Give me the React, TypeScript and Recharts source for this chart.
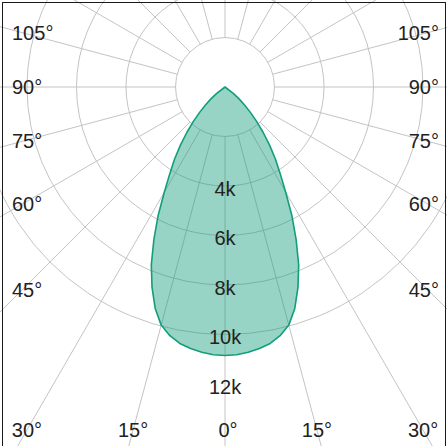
import { RadarChart, Radar, PolarGrid, PolarAngleAxis, PolarRadiusAxis } from 'recharts'

// luminous intensity (cd) read every 2.5° from nadir, 0..90°
const gammaDeg = [
  0, 2.5, 5, 7.5, 10, 12.5, 15, 17.5, 20, 22.5, 25, 27.5, 30, 32.5, 35, 37.5, 40, 42.5, 45,
  47.5, 50, 52.5, 55, 57.5, 60, 62.5, 65, 67.5, 70, 72.5, 75, 77.5, 80, 82.5, 85, 87.5, 90,
]
const intensityCd = [
  10850, 10830, 10760, 10660, 10520, 10290, 9960, 9380, 8620, 7780, 6800, 5850, 4900, 4150, 3550, 2950, 2400, 1900, 1450,
  1060, 730, 420, 0, 0, 0, 0, 0, 0, 0, 0, 0, 0, 0, 0, 0, 0, 0,
]

const ringValues = [2000, 4000, 6000, 8000, 10000]
const radiusLabels = [4000, 6000, 8000, 10000, 12000]
const angleLabels = [0, 15, 30, 45, 60, 75, 90, 105]
const spokeAngles = [0, 15, 30, 45, 60, 75, 90, 105, 120, 135, 150, 165, 180, 195, 210, 225, 240, 255, 270, 285, 300, 315, 330, 345]

const W = 447
const H = 446
const CX = 225
const CY = 87
const R_MIN = 2000
const R_MAX = 18000
// chosen so that 0 cd lands exactly on the centre
const INNER = 49.5
const OUTER = 445.5
const rScale = (v: number) => INNER + ((v - R_MIN) * (OUTER - INNER)) / (R_MAX - R_MIN)

const FONT = '"Liberation Sans", Arial, sans-serif'
const GREEN = '#129e7a'

// full turn in 2.5° steps, mirrored about the 0° axis
const data = Array.from({ length: 144 }, (_, i) => {
  const a = i * 2.5
  const g = a <= 180 ? a : 360 - a
  const k = gammaDeg.indexOf(g)
  return { angle: a, cd: k >= 0 ? intensityCd[k] : 0 }
})

function AngleTick(props: any) {
  const a = Number(props.payload?.value)
  const g = a <= 180 ? a : 360 - a
  if (!angleLabels.includes(g)) return <g />
  const rad = (a * Math.PI) / 180
  const dx = -Math.sin(rad)
  const dy = Math.cos(rad)
  const hits: { t: number; side: string }[] = []
  if (dx < -1e-6) hits.push({ t: (22 - CX) / dx, side: 'left' })
  if (dx > 1e-6) hits.push({ t: (428 - CX) / dx, side: 'right' })
  if (dy > 1e-6) hits.push({ t: (430 - CY) / dy, side: 'bottom' })
  const hit = hits.reduce((m, c) => (c.t < m.t ? c : m))
  let x = CX + hit.t * dx
  let y = CY + hit.t * dy
  let anchor: 'start' | 'middle' | 'end' = 'middle'
  if (hit.side === 'left') {
    x = 12
    anchor = 'start'
  } else if (hit.side === 'right') {
    x = 439
    anchor = 'end'
  } else {
    y = 430
    if (g === 0) x += 3
  }
  return (
    <text x={x} y={y + 7} textAnchor={anchor} fontSize={20} fontFamily={FONT} fill="#222">
      {g}°
    </text>
  )
}

function RadiusTick(props: any) {
  const { x, y, payload } = props
  return (
    <text x={x} y={y + 9.5} textAnchor="middle" fontSize={20} fontFamily={FONT} fill="#222">
      {payload.value / 1000}k
    </text>
  )
}

export default function App() {
  return (
    <div style={{ position: 'fixed', left: 0, top: 0, width: W, height: H, background: '#fff', overflow: 'hidden' }}>
      <RadarChart
        width={W}
        height={H}
        data={data}
        cx={CX}
        cy={CY}
        innerRadius={INNER}
        outerRadius={OUTER}
        startAngle={-90}
        endAngle={-450}
        margin={{ top: 0, right: 0, bottom: 0, left: 0 }}
      >
        <PolarGrid
          gridType="circle"
          polarAngles={spokeAngles}
          polarRadius={ringValues.map(rScale)}
          stroke="#c4c4c4"
          strokeWidth={1}
        />
        <PolarAngleAxis dataKey="angle" tick={AngleTick} axisLine={false} tickLine={false} />
        <Radar
          dataKey="cd"
          stroke={GREEN}
          strokeWidth={1.6}
          strokeLinejoin="round"
          fill={GREEN}
          fillOpacity={0.44}
          dot={false}
          activeDot={false}
          isAnimationActive={false}
        />
        <PolarRadiusAxis
          type="number"
          angle={-90}
          domain={[R_MIN, R_MAX]}
          allowDataOverflow
          ticks={radiusLabels}
          tick={RadiusTick}
          axisLine={false}
        />
      </RadarChart>
      <div
        style={{
          position: 'absolute',
          left: 2,
          top: 2,
          width: 444,
          height: 480,
          border: '1.6px solid #1a1a1a',
          boxSizing: 'border-box',
          pointerEvents: 'none',
        }}
      />
    </div>
  )
}
